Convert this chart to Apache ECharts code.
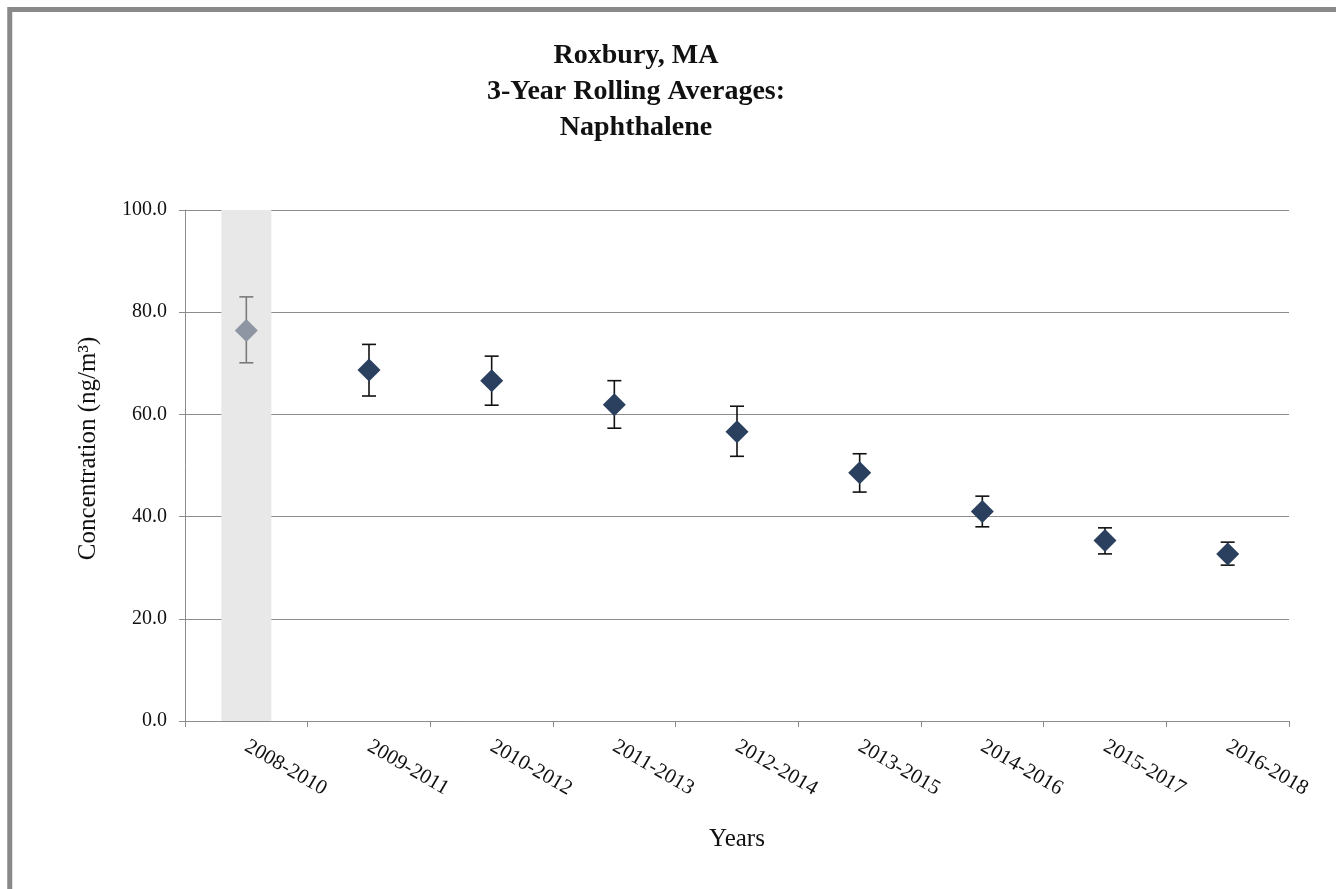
<!DOCTYPE html>
<html>
<head>
<meta charset="utf-8">
<title>Roxbury, MA – Naphthalene 3-Year Rolling Averages</title>
<script src="https://cdn.jsdelivr.net/npm/echarts@6/dist/echarts.min.js"></script>
<style>
  html, body { margin: 0; padding: 0; background: #ffffff; }
  #chart { width: 1336px; height: 889px; }
</style>
</head>
<body>
<div id="chart"></div>
<script>
// 3-year rolling windows
const periods = ['2008-2010', '2009-2011', '2010-2012', '2011-2013', '2012-2014',
                 '2013-2015', '2014-2016', '2015-2017', '2016-2018'];
// rolling mean concentration (ng/m3)
const meanValues = [76.4, 68.7, 66.6, 61.9, 56.6, 48.6, 41.0, 35.3, 32.7];
// confidence interval bounds
const lowerBounds = [70.1, 63.6, 61.8, 57.3, 51.8, 44.8, 38.0, 32.7, 30.5];
const upperBounds = [83.0, 73.7, 71.4, 66.6, 61.6, 52.3, 44.0, 37.8, 35.0];
// shaded band behind the first window (full axis height)
const bandValues = [100, '-', '-', '-', '-', '-', '-', '-', '-'];
// y-axis range
const yMin = 0, yMax = 100, yStep = 20;

const serif = '"Liberation Serif", "Times New Roman", serif';
const darkMarker = '#2b3f5e';
const lightMarker = '#8e96a3';

const chart = echarts.init(document.getElementById('chart'), null, { renderer: 'canvas' });

const pointData = meanValues.map((v, i) => ({
  value: [i, v],
  itemStyle: { color: i === 0 ? lightMarker : darkMarker, opacity: 1 }
}));
const errorData = meanValues.map((v, i) => [i, lowerBounds[i], upperBounds[i]]);

chart.setOption({
  animation: false,
  backgroundColor: '#ffffff',
  title: {
    text: 'Roxbury, MA\n3-Year Rolling Averages:\nNaphthalene',
    left: 631,
    top: 33,
    textAlign: 'center',
    textStyle: {
      fontFamily: serif,
      fontWeight: 'bold',
      fontSize: 28,
      lineHeight: 36,
      color: '#111111'
    }
  },
  graphic: [{
    type: 'rect',
    silent: true,
    z: 100,
    shape: { x: 9.75, y: 9.5, width: 1400, height: 1000 },
    style: { fill: 'none', stroke: '#898989', lineWidth: 5 }
  }],
  grid: { left: 185, right: 47, top: 210, bottom: 168, containLabel: false },
  xAxis: {
    type: 'category',
    data: periods,
    boundaryGap: true,
    name: 'Years',
    nameLocation: 'middle',
    nameGap: 106,
    nameTextStyle: { fontFamily: serif, fontSize: 25, color: '#111111' },
    axisLine: { show: true, lineStyle: { color: '#8c8c8c', width: 1 } },
    axisTick: { show: true, length: 6, lineStyle: { color: '#8c8c8c' } },
    axisLabel: {
      rotate: -30,
      margin: 24,
      fontFamily: serif,
      fontSize: 21,
      color: '#111111'
    },
    splitLine: { show: false }
  },
  yAxis: {
    type: 'value',
    min: yMin,
    max: yMax,
    interval: yStep,
    name: 'Concentration (ng/m³)',
    nameLocation: 'middle',
    nameGap: 84,
    nameRotate: 90,
    nameTextStyle: { fontFamily: serif, fontSize: 25, color: '#111111', padding: [0, 0, 0, 34] },
    axisLine: { show: true, lineStyle: { color: '#8c8c8c', width: 1 } },
    axisTick: { show: true, inside: false, length: 6, lineStyle: { color: '#8c8c8c' } },
    axisLabel: {
      margin: 18,
      fontFamily: serif,
      fontSize: 20,
      color: '#111111',
      formatter: v => v.toFixed(1)
    },
    splitLine: { show: true, lineStyle: { color: '#8c8c8c', width: 1 } }
  },
  series: [
    {
      name: 'band',
      type: 'bar',
      data: bandValues,
      barWidth: 50,
      silent: true,
      z: 1,
      itemStyle: { color: '#e8e8e8' }
    },
    {
      name: 'range',
      type: 'custom',
      z: 3,
      data: errorData,
      renderItem: function (params, api) {
        const idx = api.value(0);
        const lo = api.coord([idx, api.value(1)]);
        const hi = api.coord([idx, api.value(2)]);
        const half = 7;
        const color = idx === 0 ? '#7a7a7a' : '#111111';
        const style = { stroke: color, lineWidth: 1.6 };
        return {
          type: 'group',
          children: [
            { type: 'line', shape: { x1: hi[0], y1: hi[1], x2: lo[0], y2: lo[1] }, style },
            { type: 'line', shape: { x1: hi[0] - half, y1: hi[1], x2: hi[0] + half, y2: hi[1] }, style },
            { type: 'line', shape: { x1: lo[0] - half, y1: lo[1], x2: lo[0] + half, y2: lo[1] }, style }
          ]
        };
      }
    },
    {
      name: 'mean',
      type: 'scatter',
      symbol: 'diamond',
      symbolSize: [23, 23],
      z: 4,
      itemStyle: { opacity: 1 },
      data: pointData
    }
  ]
});
</script>
</body>
</html>
